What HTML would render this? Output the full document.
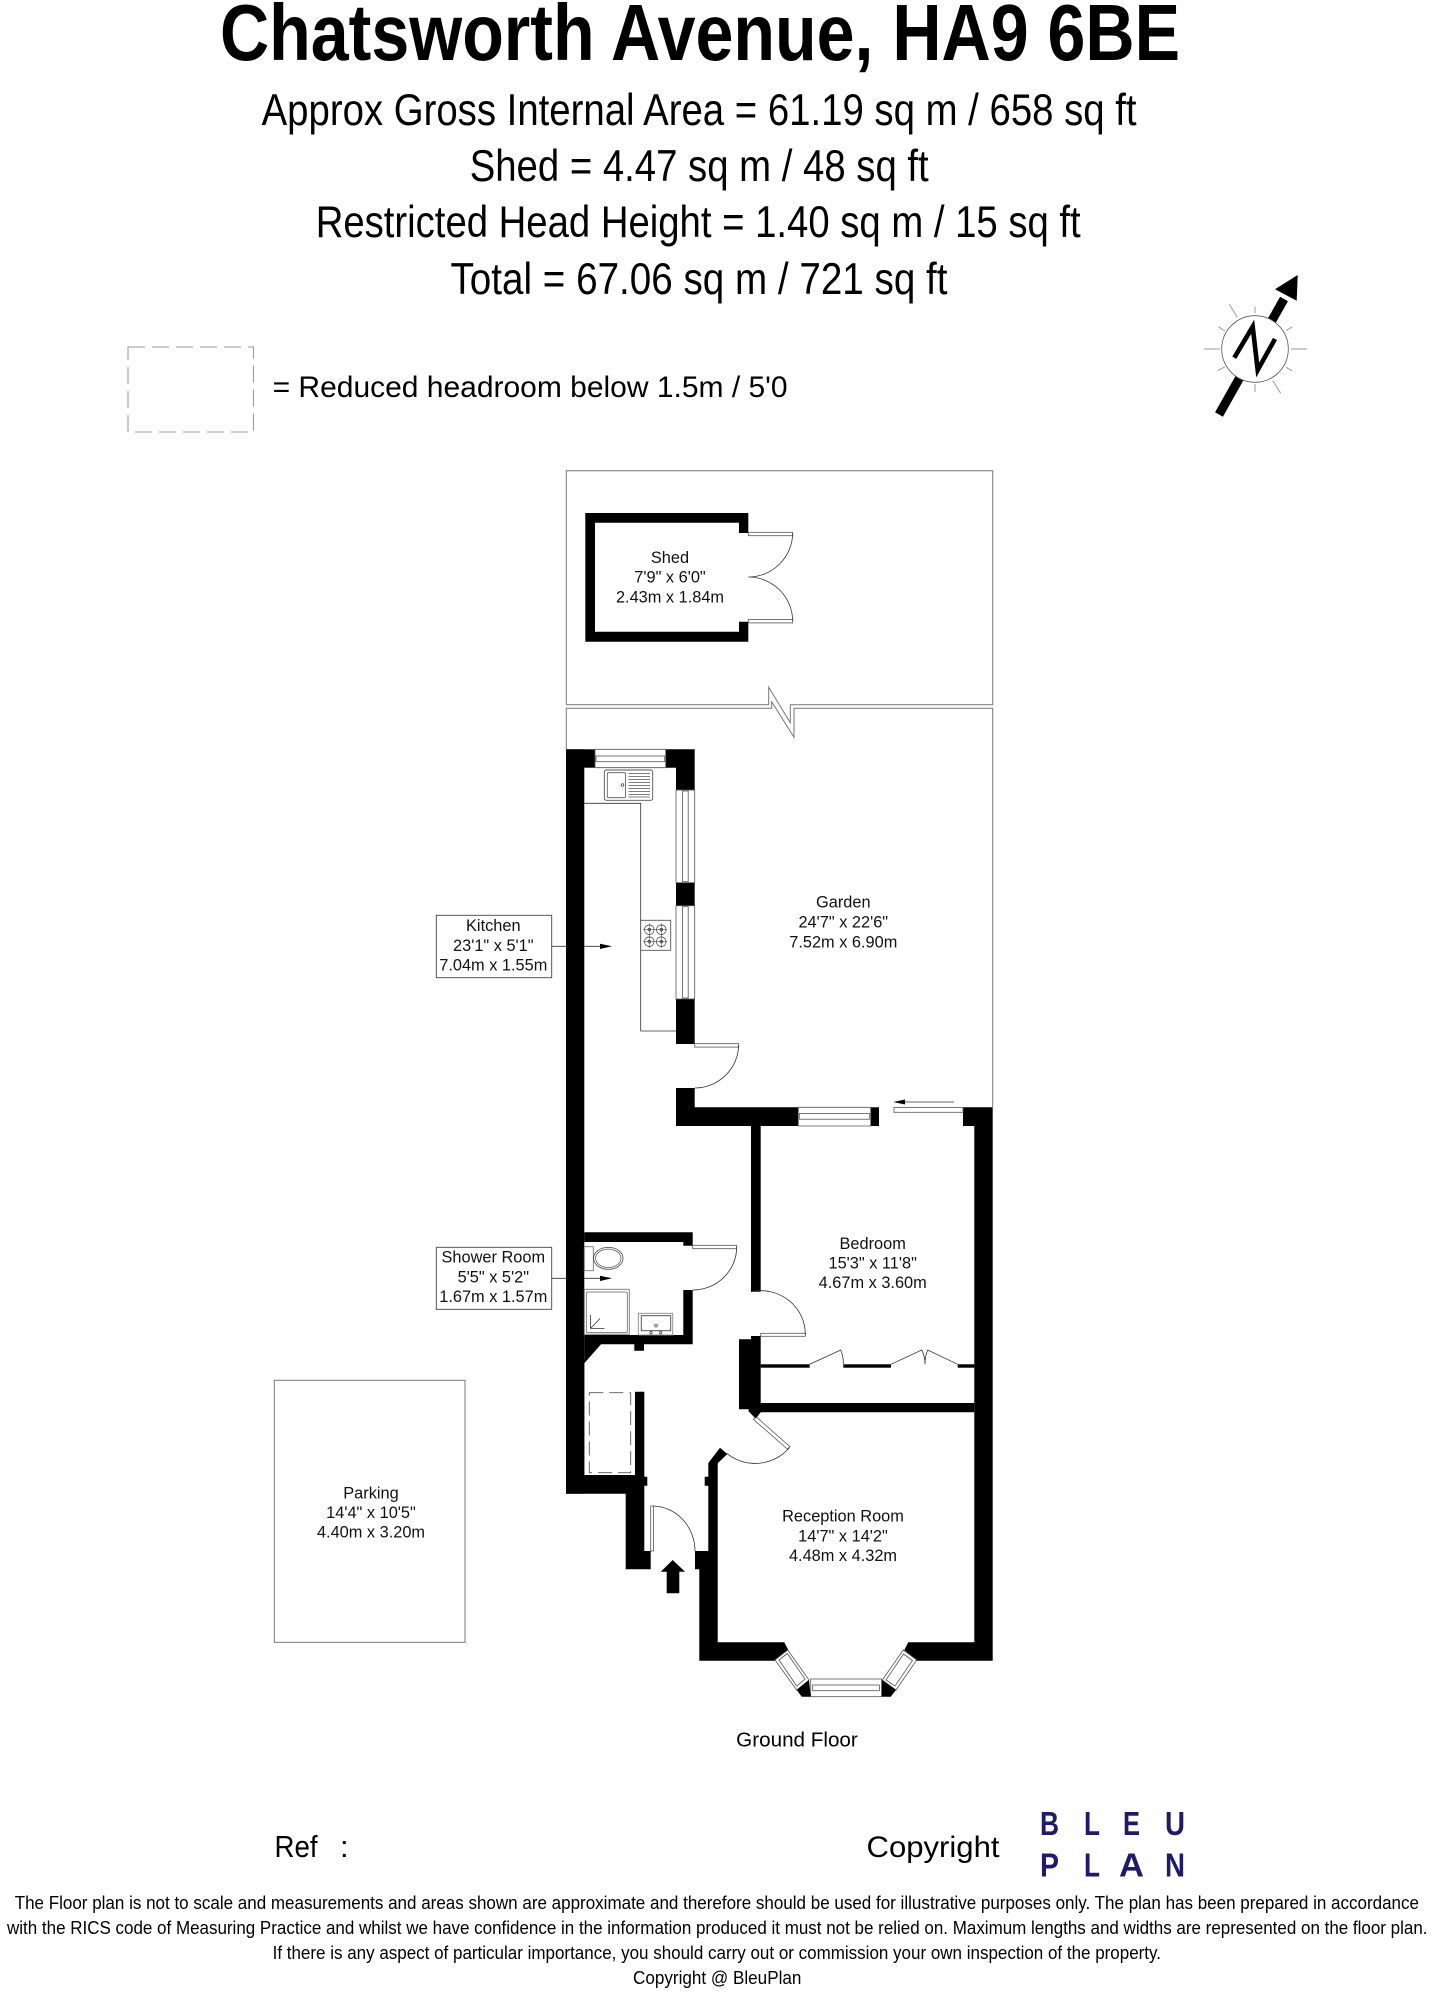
<!DOCTYPE html>
<html><head><meta charset="utf-8"><style>
html,body{margin:0;padding:0;background:#fff}
svg{display:block}
text{font-family:"Liberation Sans",sans-serif;fill:#000}
.l{font-size:16.35px;text-anchor:middle;fill:#111}
.b{fill:#000;stroke:none}
.t{fill:none;stroke:#333;stroke-width:.8}
.g{fill:none;stroke:#777;stroke-width:1}
.w{fill:#fff;stroke:#555;stroke-width:.8}
.u{fill:#1f1a6b;font-weight:bold;font-size:33.5px}
</style></head><body>
<svg width="1432" height="1992" viewBox="0 0 1432 1992" xmlns="http://www.w3.org/2000/svg">
<rect width="1432" height="1992" fill="#fff"/>
<text x="220" y="60" font-size="80" font-weight="bold" textLength="960" lengthAdjust="spacingAndGlyphs">Chatsworth Avenue, HA9 6BE</text>
<text x="261.6" y="125" font-size="44.5" textLength="875" lengthAdjust="spacingAndGlyphs">Approx Gross Internal Area = 61.19 sq m / 658 sq ft</text>
<text x="469.7" y="181" font-size="44.5" textLength="459" lengthAdjust="spacingAndGlyphs">Shed = 4.47 sq m / 48 sq ft</text>
<text x="315.7" y="237" font-size="44.5" textLength="765" lengthAdjust="spacingAndGlyphs">Restricted Head Height = 1.40 sq m / 15 sq ft</text>
<text x="450.5" y="294" font-size="44.5" textLength="497" lengthAdjust="spacingAndGlyphs">Total = 67.06 sq m / 721 sq ft</text>
<rect x="128" y="347" width="125.5" height="85" fill="none" stroke="#999" stroke-width="1" stroke-dasharray="17 7"/>
<text x="272.6" y="397" font-size="29.5" textLength="515" lengthAdjust="spacingAndGlyphs">= Reduced headroom below 1.5m / 5'0</text>

<!-- compass -->
<g>
<path d="M1219 414.5L1284 299" stroke="#000" stroke-width="9" fill="none"/>
<polygon class="b" points="1275,289.3 1297.7,275 1296.7,300.7"/>
<circle cx="1255" cy="349" r="33.3" fill="#fff" stroke="#555" stroke-width=".8"/>
<polyline points="1234.3,357.7 1252.7,326.7 1257.7,370 1275,339" fill="none" stroke="#000" stroke-width="4.6"/>
<path fill="none" stroke="#999" stroke-width="1" d="M1204 349h16M1291 349h16M1255 306.7v6.6M1255 384v7.7M1229.3 304.3l8 13M1272.7 380.7l8 12.6M1218.3 326.7l6.7 4.3M1286 330.7l6.3-4M1217.7 370.7l7.3-4M1286 367.3l6.3 3.7"/>
</g>

<!-- garden outlines -->
<path class="g" d="M566.3 704.7V470.7H992.7V704.7H790.3L790.3 722.7L768.7 687.3V704.7H566.3"/>
<path class="g" d="M566.3 749V708.3H771.7V701.7L794 737.3V708.3H992.7V1107.3"/>

<!-- shed -->
<path class="b" fill-rule="evenodd" d="M585.3 513H748.3V533H739V522.7H595V631.7H739V621.7H748.3V641.7H585.3Z"/>
<rect class="w" x="748.3" y="532.3" width="44.4" height="3.4"/>
<rect class="w" x="748.3" y="619.5" width="44.4" height="3.4"/>
<path class="t" d="M792.7 533.3A44.4 44.4 0 0 1 748.3 577M792.7 621A44.4 44.4 0 0 0 748.3 577"/>
<text class="l" x="670" y="563">Shed</text>
<text class="l" x="670" y="582.7">7'9" x 6'0"</text>
<text class="l" x="670" y="602.7">2.43m x 1.84m</text>

<!-- kitchen walls -->
<rect class="b" x="566" y="749.3" width="18.3" height="744.4"/>
<rect class="b" x="566" y="749.3" width="29" height="18.4"/>
<path class="b" d="M665.7 749.3H694.7V790H676V767.7H665.7Z"/>
<rect class="b" x="676" y="882.7" width="18.7" height="23"/>
<rect class="b" x="676" y="999" width="18.7" height="45"/>
<path class="w" d="M595 749.3H665.7V767.7H595Z"/>
<rect class="w" x="596" y="756" width="68.7" height="5.7"/>
<rect class="w" x="676" y="790" width="18.7" height="92.7"/>
<rect class="w" x="682.5" y="791" width="5.7" height="90.7"/>
<rect class="w" x="676" y="905.7" width="18.7" height="93.3"/>
<rect class="w" x="682.5" y="906.7" width="5.7" height="91.3"/>
<path class="t" d="M584.3 803.3H640.7V1031H676" stroke-width="1"/>
<!-- sink -->
<rect x="604.3" y="770" width="48.4" height="30.3" rx="2" fill="#fff" stroke="#555" stroke-width=".9"/>
<rect x="607.3" y="772.7" width="18.3" height="25" rx="1.5" fill="none" stroke="#555" stroke-width=".8"/>
<circle cx="622.5" cy="785" r="1.3" fill="none" stroke="#333" stroke-width=".7"/>
<path stroke="#555" stroke-width=".8" fill="none" d="M628.5 773.5h21.5M628.5 776.5h21.5M628.5 779.5h21.5M628.5 782.5h21.5M628.5 785.5h21.5M628.5 788.5h21.5M628.5 791.5h21.5M628.5 794.5h21.5M628.5 797h21.5"/>
<!-- hob -->
<rect x="640.7" y="920.3" width="30" height="30" fill="#fff" stroke="#555" stroke-width=".9"/>
<g fill="none" stroke="#333" stroke-width=".7">
<circle cx="649.3" cy="929.7" r="4.8"/><circle cx="661.3" cy="929.7" r="4.8"/><circle cx="649.3" cy="941.7" r="4.8"/><circle cx="661.3" cy="941.7" r="4.8"/>
<circle cx="649.3" cy="929.7" r="1.3"/><circle cx="661.3" cy="929.7" r="1.3"/><circle cx="649.3" cy="941.7" r="1.3"/><circle cx="661.3" cy="941.7" r="1.3"/>
<path d="M643 929.7h24M643 941.7h24M649.3 923.5v24.5M661.3 923.5v24.5" stroke-width=".5"/>
</g>
<!-- kitchen label -->
<rect x="436.3" y="915.3" width="115.4" height="62.4" fill="#fff" stroke="#444" stroke-width=".9"/>
<text class="l" x="493.3" y="931">Kitchen</text>
<text class="l" x="493.3" y="951">23'1" x 5'1"</text>
<text class="l" x="493.3" y="970.7">7.04m x 1.55m</text>
<path class="t" d="M551.7 946.3H566M584.3 946.3H602" stroke="#000"/>
<polygon class="b" points="600,943.7 612,946.3 600,949"/>
<!-- kitchen door -->
<rect class="w" x="694.7" y="1043.7" width="44" height="3.4"/>
<path class="t" d="M738.7 1045A44 44 0 0 1 694.7 1088"/>
<!-- lower walls -->
<path class="b" d="M676 1088H694.7V1107.3H798.3V1126H760.7V1291.7H751V1126H676Z"/>
<rect class="b" x="870.7" y="1107.3" width="8.3" height="18.7"/>
<path class="w" d="M798.3 1107.3H870.7V1126H798.3Z"/>
<rect class="w" x="799.3" y="1113.5" width="70.4" height="5.7"/>
<path class="b" d="M963 1107.3H992.7V1660.7H916.7L904.3 1650 908.3 1642.3H974.3V1126H963Z"/>
<rect class="w" x="894" y="1107.5" width="69" height="4.8"/>
<path class="t" d="M905 1102H954"/>
<polygon class="b" points="893.3,1102 905,1099.5 905,1104.5"/>
<!-- bedroom -->
<path class="b" d="M751 1336H760.7V1403H974.3V1412.3H760.7L755.7 1418.7 748.3 1411 749 1409.3H739V1339.3H751Z"/>
<rect class="w" x="760.7" y="1333.3" width="44.6" height="3"/>
<path class="t" d="M805.3 1335A44.6 43.5 0 0 0 751 1291.7"/>
<rect class="b" x="760.7" y="1364.3" width="49" height="3.4"/>
<rect class="b" x="843.3" y="1364.3" width="47.7" height="3.4"/>
<rect class="b" x="957.7" y="1364.3" width="16.6" height="3.4"/>
<path class="t" d="M809.7 1364.3L840.7 1350Q843.5 1356 843.3 1364.3M891 1364.3L921.7 1350Q925 1356 925 1364.3M957.7 1364.3L927.7 1350Q925 1356 925 1364.3"/>
<text class="l" x="872.7" y="1249">Bedroom</text>
<text class="l" x="872.7" y="1268.3">15'3" x 11'8"</text>
<text class="l" x="872.7" y="1288">4.67m x 3.60m</text>
<!-- shower room -->
<path class="b" d="M584.3 1232.3H692.7V1245.7H683.3V1242H584.3Z"/>
<path class="b" d="M683.3 1290H692.7V1344.3H644V1350.7H634.3V1344.3H601L584.3 1363.3V1335H683.3Z"/>
<rect class="w" x="692.7" y="1245.3" width="44" height="3.4"/>
<path class="t" d="M736.7 1247A44 43 0 0 1 692.7 1290"/>
<rect x="584.3" y="1246.7" width="9" height="24" fill="#fff" stroke="#777" stroke-width=".9"/>
<ellipse cx="608.3" cy="1258.3" rx="14.7" ry="11" fill="#fff" stroke="#555" stroke-width=".9"/>
<ellipse cx="608.3" cy="1258.3" rx="12.7" ry="9.2" fill="none" stroke="#555" stroke-width=".7"/>
<rect x="584.3" y="1289.3" width="45" height="45" fill="#fff" stroke="#777" stroke-width=".9"/>
<rect x="586.3" y="1292" width="41" height="40.7" rx="1.5" fill="none" stroke="#666" stroke-width=".8"/>
<path class="t" d="M590.5 1328.5V1315M590.5 1328.5H604.5M590.5 1328.5L600 1318.5"/>
<rect x="638.3" y="1313.3" width="34.4" height="21.7" fill="#fff" stroke="#888" stroke-width=".9"/>
<rect x="641.3" y="1315.7" width="29.4" height="15" fill="none" stroke="#444" stroke-width=".9"/>
<circle cx="656" cy="1325.7" r="1.3" fill="none" stroke="#333" stroke-width=".7"/>
<circle cx="651" cy="1332.7" r="1.2" fill="none" stroke="#333" stroke-width=".7"/>
<circle cx="660.7" cy="1332.7" r="1.2" fill="none" stroke="#333" stroke-width=".7"/>
<rect x="436.3" y="1247.3" width="115.4" height="62" fill="#fff" stroke="#444" stroke-width=".9"/>
<text class="l" x="493.3" y="1262.3">Shower Room</text>
<text class="l" x="493.3" y="1282.3">5'5" x 5'2"</text>
<text class="l" x="493.3" y="1302">1.67m x 1.57m</text>
<path class="t" d="M551.7 1278.3H566M584.3 1278.3H602" stroke="#000"/>
<polygon class="b" points="600,1275.7 612,1278.3 600,1281"/>
<!-- hall cupboard -->
<path class="b" d="M566 1360H584.3V1475H635V1391.7H644.3V1476.7H647.3V1485.7H644.3V1551H650.7V1569.3H625.7V1493.7H566Z"/>
<rect x="589.3" y="1392.7" width="41.4" height="80" fill="none" stroke="#555" stroke-width=".9" stroke-dasharray="14 6"/>
<!-- entrance -->
<rect class="w" x="650.7" y="1506" width="2.9" height="45"/>
<path class="t" d="M653.3 1506A43 45 0 0 1 695 1551"/>
<polygon class="b" points="672.7,1560 685,1571.7 679.3,1571.7 679.3,1593.3 666.7,1593.3 666.7,1571.7 660.7,1571.7"/>
<!-- reception -->
<path class="b" d="M720 1447.7L727.3 1454 717.7 1463.3V1642.3H784.3L788.3 1650 775 1660.7H699.3V1569.3H695V1551H708.3V1485.7H704.7V1476.7H708.3V1463Z"/>
<polygon class="w" points="753.3,1419.3 756.7,1417.3 790,1446.7 787.3,1449"/>
<path class="t" d="M789.3 1447.7A45 45 0 0 1 726.7 1453.3"/>
<text class="l" x="843" y="1521.7">Reception Room</text>
<text class="l" x="843" y="1541.3">14'7" x 14'2"</text>
<text class="l" x="843" y="1561">4.48m x 4.32m</text>
<!-- bay -->
<polygon class="w" points="775,1660 787.7,1650 809,1680 796.7,1690"/>
<polygon class="w" points="779,1660 787.3,1653.5 805,1679 796.7,1686" style="fill:none"/>
<polygon class="w" points="882.3,1680 903.3,1650 916.7,1660 896,1690"/>
<polygon class="w" points="886,1680 903.5,1654 912.5,1660.5 895,1686" style="fill:none"/>
<rect class="w" x="810.7" y="1679" width="71" height="17.7"/>
<rect class="w" x="812.7" y="1685" width="66.7" height="5.7"/>
<polygon class="b" points="796.7,1690 809,1680 810.7,1696.7 801.7,1696.7"/>
<polygon class="b" points="881.7,1680 896,1690 890.7,1696.7 881.7,1696.7"/>
<!-- parking -->
<rect x="274.3" y="1380.3" width="190.7" height="262" fill="none" stroke="#777" stroke-width="1"/>
<text class="l" x="371" y="1498.3">Parking</text>
<text class="l" x="371" y="1518">14'4" x 10'5"</text>
<text class="l" x="371" y="1537.5">4.40m x 3.20m</text>
<text class="l" x="843.3" y="907.3">Garden</text>
<text class="l" x="843.3" y="927.7">24'7" x 22'6"</text>
<text class="l" x="843.3" y="947.7">7.52m x 6.90m</text>
<text x="736.2" y="1746.7" font-size="20" textLength="121.6" lengthAdjust="spacingAndGlyphs">Ground Floor</text>
<!-- footer -->
<text x="274.5" y="1857" font-size="31" textLength="43" lengthAdjust="spacingAndGlyphs">Ref</text>
<text x="340" y="1857" font-size="31">:</text>
<text x="866.5" y="1857" font-size="29.5" textLength="133" lengthAdjust="spacingAndGlyphs">Copyright</text>
<text class="u" x="1040" y="1835" textLength="19" lengthAdjust="spacingAndGlyphs">B</text>
<text class="u" x="1084" y="1835" textLength="16" lengthAdjust="spacingAndGlyphs">L</text>
<text class="u" x="1123" y="1835" textLength="17" lengthAdjust="spacingAndGlyphs">E</text>
<text class="u" x="1165" y="1835" textLength="20" lengthAdjust="spacingAndGlyphs">U</text>
<text class="u" x="1040" y="1876.7" textLength="19" lengthAdjust="spacingAndGlyphs">P</text>
<text class="u" x="1084" y="1876.7" textLength="16" lengthAdjust="spacingAndGlyphs">L</text>
<text class="u" x="1119" y="1876.7" textLength="25" lengthAdjust="spacingAndGlyphs">A</text>
<text class="u" x="1165" y="1876.7" textLength="20" lengthAdjust="spacingAndGlyphs">N</text>
<text x="14.7" y="1909" font-size="18.5" textLength="1404.3" lengthAdjust="spacingAndGlyphs">The Floor plan is not to scale and measurements and areas shown are approximate and therefore should be used for illustrative purposes only. The plan has been prepared in accordance</text>
<text x="7" y="1934" font-size="18.5" textLength="1420.5" lengthAdjust="spacingAndGlyphs">with the RICS code of Measuring Practice and whilst we have confidence in the information produced it must not be relied on. Maximum lengths and widths are represented on the floor plan.</text>
<text x="272.6" y="1959" font-size="18.5" textLength="888.4" lengthAdjust="spacingAndGlyphs">If there is any aspect of particular importance, you should carry out or commission your own inspection of the property.</text>
<text x="633" y="1984" font-size="18.5" textLength="168.4" lengthAdjust="spacingAndGlyphs">Copyright @ BleuPlan</text>
</svg>
</body></html>
